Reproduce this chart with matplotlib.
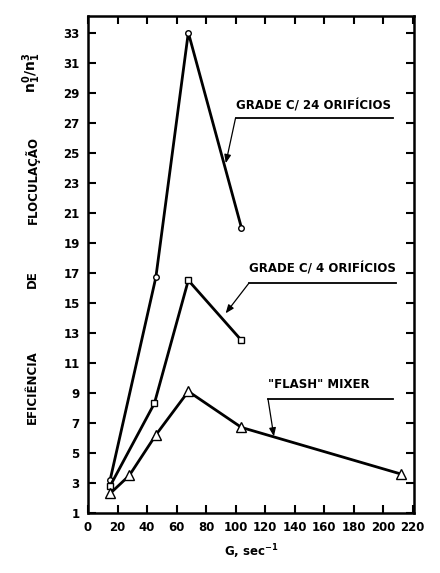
import matplotlib
matplotlib.use("Agg")
import matplotlib.pyplot as plt

# === Dados ===
g_24 = [15, 46, 68, 104]
ef_24 = [3.2, 16.7, 33.0, 20.0]

g_4 = [15, 45, 68, 104]
ef_4 = [2.8, 8.3, 16.5, 12.5]

g_flash = [15, 28, 46, 68, 104, 212]
ef_flash = [2.3, 3.5, 6.2, 9.1, 6.7, 3.6]

x_ticks = list(range(0, 221, 20))
y_ticks = list(range(1, 34, 2))

plt.rcParams["font.family"] = ["DejaVu Sans"]
plt.rcParams["font.weight"] = "bold"

fig = plt.figure(figsize=(4.4, 5.73), dpi=100)
ax = fig.add_axes([0.2, 0.1047, 0.741, 0.8673])

lw = 2.0
ax.plot(g_24, ef_24, color="black", lw=lw, marker="o", ms=4,
        mfc="white", mec="black", mew=1.0)
ax.plot(g_4, ef_4, color="black", lw=lw, marker="s", ms=4.5,
        mfc="white", mec="black", mew=1.0)
ax.plot(g_flash, ef_flash, color="black", lw=lw, marker="^", ms=7.5,
        mfc="white", mec="black", mew=1.0)

ax.set_xlim(0, 221)
ax.set_ylim(1, 34.1)
ax.set_xticks(x_ticks)
ax.set_yticks(y_ticks)
ax.tick_params(direction="in", length=6, width=1.5, top=True, right=True,
               labelsize=8.5, pad=6)
for s in ax.spines.values():
    s.set_linewidth(1.8)

ax.set_xlabel(r"G, sec$^{-1}$", fontsize=8.5, fontweight="bold", labelpad=6)

# === Rótulos das curvas com linha de chamada ===
labels = [
    ("GRADE C/ 24 ORIFÍCIOS", 100, 27.7, 27.3, 207, (93.4, 24.3)),
    ("GRADE C/ 4 ORIFÍCIOS", 109, 16.8, 16.3, 209, (93.3, 14.3)),
    ('"FLASH" MIXER', 122, 9.1, 8.6, 207, (126, 6.1)),
]
for txt, x0, yt, yu, x1, tip in labels:
    ax.text(x0, yt, txt, fontsize=8.5, fontweight="bold", ha="left", va="bottom")
    ax.plot([x0, x1], [yu, yu], color="black", lw=1.3)
    ax.annotate("", xy=tip, xytext=(x0, yu),
                arrowprops=dict(arrowstyle="-|>,head_length=0.5,head_width=0.2",
                                color="black", lw=0.9, shrinkA=0, shrinkB=0))

# === Título do eixo Y, em partes espaçadas ===
yl = dict(rotation=90, ha="center", va="center", fontsize=8.5, fontweight="bold")
fig.text(0.073, 0.325, "EFICIÊNCIA", **yl)
fig.text(0.073, 0.513, "DE", **yl)
fig.text(0.073, 0.686, "FLOCULAÇÃO", **yl)
fig.text(0.073, 0.873, r"$\mathbf{n_{1}^{0}/n_{1}^{3}}$", rotation=90,
         ha="center", va="center", fontsize=10)

fig.savefig("out.png", dpi=100)
